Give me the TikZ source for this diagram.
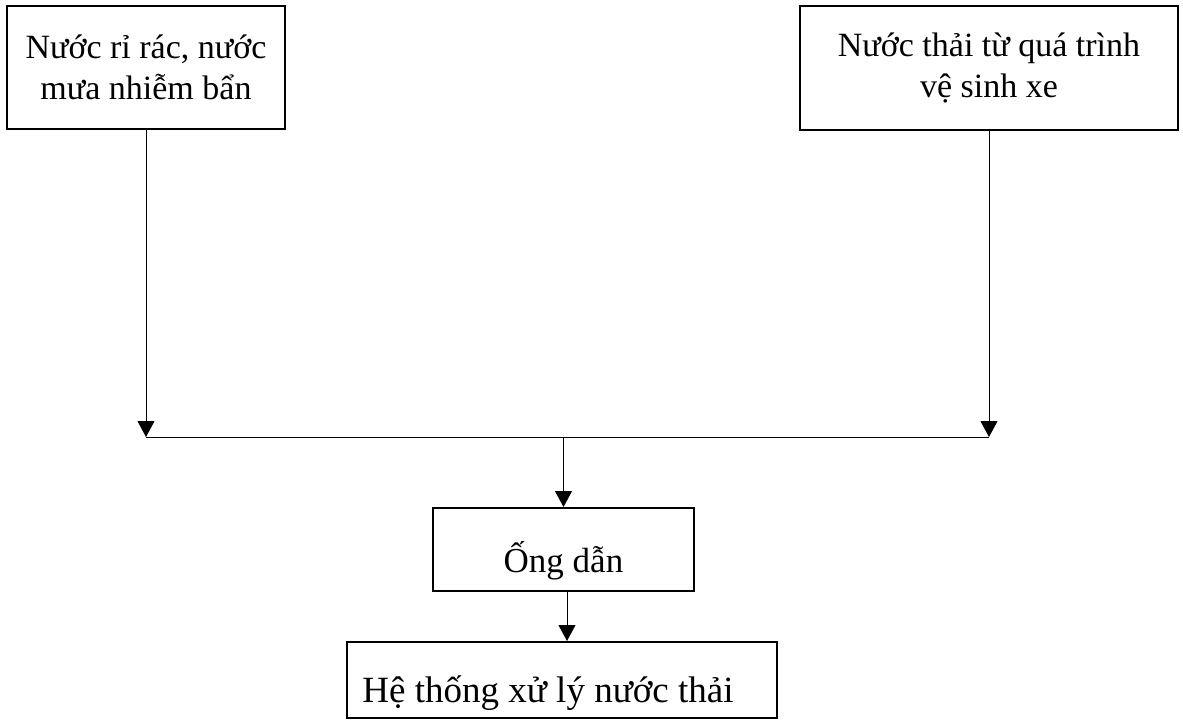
\documentclass[tikz,border=0pt]{standalone}
\usepackage{fontspec}
\setmainfont{Liberation Serif}
\usetikzlibrary{arrows.meta}
\begin{document}
\begin{tikzpicture}[x=1pt,y=-1pt,
  box/.style={draw, line width=2pt, inner sep=0pt, align=center,
    font=\fontsize{34}{41}\selectfont},
  flow/.style={line width=1pt, -{Triangle[width=17pt,length=16pt]}},
  link/.style={line width=1pt}]
\useasboundingbox (0,0) rectangle (1183,720);
\node[box, minimum width=278pt, minimum height=123pt] (src1) at (146,67.5)
  {Nước rỉ rác, nước\\mưa nhiễm bẩn};
\node[box, minimum width=378pt, minimum height=124pt] (src2) at (989,68)
  {Nước thải từ quá trình\\vệ sinh xe};
\node[box, minimum width=261pt, minimum height=83pt, text height=45pt, text depth=0pt,
  font=\fontsize{35}{41}\selectfont] (ong) at (563.5,549.5)
  {Ống dẫn};
\node[box, minimum width=430pt, minimum height=76pt, text height=44pt, text depth=0pt,
  font=\fontsize{37}{44}\selectfont] (he) at (562,680)
  {Hệ thống xử lý nước thải\hspace*{28pt}};
\coordinate (jl) at (146,437);
\coordinate (jr) at (989,437);
\coordinate (jm) at (563.5,437);
\draw[flow] (src1.south) -- (jl);
\draw[flow] (src2.south) -- (jr);
\draw[link] (jl) -- (jr);
\draw[flow] (jm) -- (ong.north);
\draw[flow] ([xshift=3.5pt]ong.south) -- ([xshift=3.5pt]ong.south |- he.north);
\end{tikzpicture}
\end{document}
